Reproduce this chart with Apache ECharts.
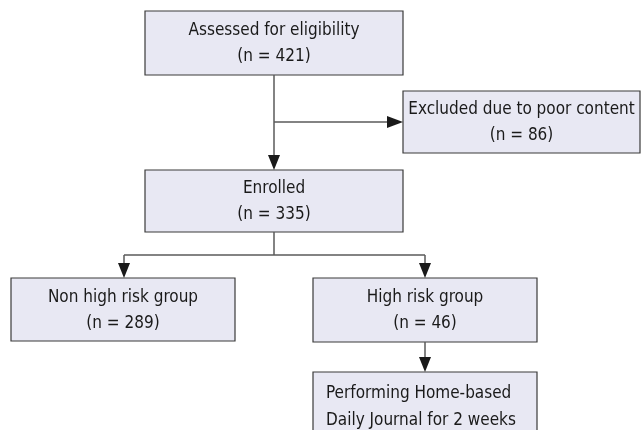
<!DOCTYPE html>
<html><head><meta charset="utf-8">
<script src="https://cdn.jsdelivr.net/npm/echarts@6/dist/echarts.min.js"></script>
<style>html,body{margin:0;padding:0;background:#fff}#c{width:642px;height:430px}</style>
</head><body><div id="c"></div>
<script>
// Data
const stageNames = ['Assessed for eligibility','Excluded due to poor content','Enrolled','Non high risk group','High risk group','Performing Home-based\nDaily Journal for 2 weeks'];
const stageCounts = [421, 86, 335, 289, 46, null];

// Layout (positions / sizes)
const boxes = [
  {x:145,y:11,w:258,h:64},
  {x:403,y:91,w:237,h:62},
  {x:145,y:170,w:258,h:62},
  {x:11,y:278,w:224,h:63},
  {x:313,y:278,w:224,h:64},
  {x:313,y:372,w:224,h:70, left:true}
];
const FONT = '"Liberation Sans Narrow","Arial Narrow","DejaVu Sans Condensed",sans-serif';
const fill = '#e8e8f3', stroke = '#3a3a3a', lineCol = '#5a5a5a', txtCol = '#1a1a1a';

const els = [];
boxes.forEach((b,i)=>{
  els.push({type:'rect',shape:{x:b.x,y:b.y,width:b.w,height:b.h},style:{fill:fill,stroke:stroke,lineWidth:1.2},z:1});
  const t = stageCounts[i]!=null ? stageNames[i]+'\n(n = '+stageCounts[i]+')' : stageNames[i];
  if(b.left){
    els.push({type:'text',x:b.x+13,y:b.y+8,style:{text:t,fill:txtCol,font:'17px '+FONT,lineHeight:27,textAlign:'left',textVerticalAlign:'top'},z:3});
  } else {
    els.push({type:'text',x:b.x+b.w/2,y:b.y+b.h/2+1,style:{text:t,fill:txtCol,font:'17px '+FONT,lineHeight:26,textAlign:'center',textVerticalAlign:'middle'},z:3});
  }
});
function line(pts){els.push({type:'polyline',shape:{points:pts},style:{stroke:lineCol,lineWidth:1.5,fill:null},z:2});}
function arrowDown(x,y){els.push({type:'polygon',shape:{points:[[x-6,y-15],[x+6,y-15],[x,y]]},style:{fill:'#1a1a1a'},z:2});}
function arrowRight(x,y){els.push({type:'polygon',shape:{points:[[x-16,y-6],[x-16,y+6],[x,y]]},style:{fill:'#1a1a1a'},z:2});}

line([[274,75],[274,158]]); arrowDown(274,170);
line([[274,122],[390,122]]); arrowRight(403,122);
line([[274,232],[274,255]]);
line([[124,255],[425,255]]);
line([[124,255],[124,265]]); arrowDown(124,278);
line([[425,255],[425,265]]); arrowDown(425,278);
line([[425,342],[425,360]]); arrowDown(425,372);

const chart = echarts.init(document.getElementById('c'),null,{renderer:'canvas'});
chart.setOption({animation:false,backgroundColor:'#fff',graphic:{elements:els}});
</script></body></html>
